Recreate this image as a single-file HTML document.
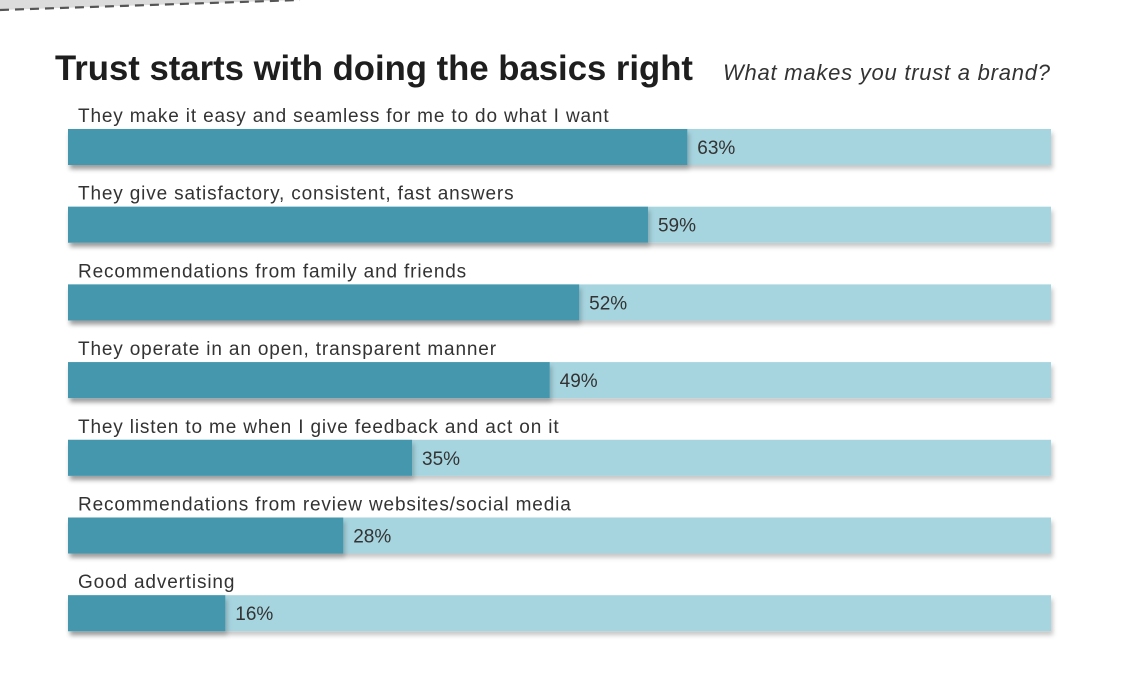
<!DOCTYPE html>
<html><head><meta charset="utf-8"><style>
body{margin:0;width:1130px;height:678px;background:#fff;overflow:hidden;font-family:"Liberation Sans",sans-serif;}
svg{display:block}
</style></head><body>
<svg width="1130" height="678">
<defs><filter id="sh" x="-5%" y="-20%" width="110%" height="160%"><feDropShadow dx="2" dy="4" stdDeviation="2.5" flood-color="#000" flood-opacity="0.22"/></filter></defs>
<polygon points="0,0 300,0 0,10" fill="#dcdcdc"/>
<line x1="0" y1="10" x2="300" y2="0" stroke="#555" stroke-width="2.2" stroke-dasharray="9,6"/>
<text x="55" y="80" font-size="35" font-weight="bold" fill="#1e1e1e" textLength="638" lengthAdjust="spacingAndGlyphs">Trust starts with doing the basics right</text>
<text x="723" y="80" font-size="22" font-style="italic" fill="#333" textLength="327">What makes you trust a brand?</text>
<g id="bars"></g>
</svg>
<script>
const categories=["They make it easy and seamless for me to do what I want","They give satisfactory, consistent, fast answers","Recommendations from family and friends","They operate in an open, transparent manner","They listen to me when I give feedback and act on it","Recommendations from review websites/social media","Good advertising"];
const values=[63,59,52,49,35,28,16];
const valueLabels=["63%","59%","52%","49%","35%","28%","16%"];
const x0=68,W=983,top0=129,step=77.7,H=36;
const xs=v=>x0+v/100*W;
const g=document.getElementById('bars');
const NS="http://www.w3.org/2000/svg";
function mk(t,a){const e=document.createElementNS(NS,t);for(const k in a)e.setAttribute(k,a[k]);return e;}
categories.forEach((c,i)=>{
 const y=top0+i*step;
 const lab=mk('text',{x:78,y:y-7,'font-size':19,fill:'#333','letter-spacing':0.85});lab.textContent=c;
 
 
 g.appendChild(lab);
 const bg=mk('rect',{x:x0,y:y,width:W,height:H,fill:'#a6d4df',filter:'url(#sh)'});
 
 
 g.appendChild(bg);
 const b=mk('rect',{x:x0,y:y,width:xs(values[i])-x0,height:H,fill:'#4497ae',filter:'url(#sh)'});
 
 
 g.appendChild(b);
 const t=mk('text',{x:xs(values[i])+10,y:y+25,'font-size':19,fill:'#333'});t.textContent=valueLabels[i];
 
 
 g.appendChild(t);
});
</script>
</body></html>
